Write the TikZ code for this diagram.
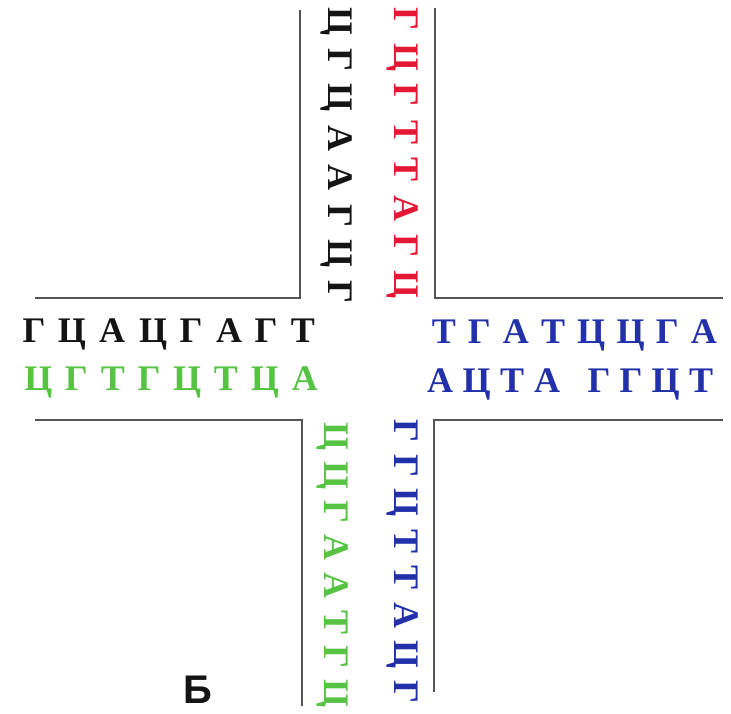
\documentclass[tikz,border=0pt]{standalone}
\usepackage{fontspec}
\setmainfont{Liberation Serif}
\newfontfamily\sansb{Liberation Sans}
\definecolor{nblack}{RGB}{20,20,20}
\definecolor{nred}{RGB}{228,24,52}
\definecolor{ngreen}{RGB}{86,196,66}
\definecolor{nblue}{RGB}{34,48,170}
\definecolor{framec}{RGB}{85,85,85}
\tikzset{
  letterbase/.style={font=\fontsize{36}{36}\selectfont\bfseries, inner sep=0pt, anchor=base},
  hlet/.style={letterbase},
  vlet/.style={letterbase, rotate=-90},
  frameline/.style={draw=framec, line width=2.6pt, line join=miter}
}
\begin{document}
\begin{tikzpicture}[x=1pt,y=-1pt]
\useasboundingbox (0,0) rectangle (731,713);
% frame corners
\coordinate (tlA) at (35,298); \coordinate (tlB) at (300,298); \coordinate (tlC) at (300,10);
\coordinate (trA) at (723,298); \coordinate (trB) at (435,298); \coordinate (trC) at (435,8);
\coordinate (blA) at (35,420); \coordinate (blB) at (302,420); \coordinate (blC) at (302,706);
\coordinate (brA) at (723,420); \coordinate (brB) at (434,420); \coordinate (brC) at (434,692);
\draw[frameline] (tlA) -- (tlB) -- (tlC);
\draw[frameline] (trA) -- (trB) -- (trC);
\draw[frameline] (blA) -- (blB) -- (blC);
\draw[frameline] (brA) -- (brB) -- (brC);
% horizontal rows
\foreach \x/\l [count=\i] in {34/Г,72/Ц,112/А,153/Ц,191/Г,229/А,266/Г,303/Т}
  \node[hlet, text=nblack] (bk\i) at (\x,342) {\l};
\foreach \x/\l [count=\i] in {38.5/Ц,76.4/Г,112.8/Т,149.2/Г,187.1/Ц,226/Т,264.9/Ц,304.8/А}
  \node[hlet, text=ngreen] (gr\i) at (\x,390) {\l};
\foreach \x/\l [count=\i] in {444/Т,479.4/Г,515.8/А,553.2/Т,591.1/Ц,630.5/Ц,667.4/Г,703.8/А}
  \node[hlet, text=nblue] (bla\i) at (\x,343) {\l};
\foreach \x/\l [count=\i] in {440/А,476.5/Ц,512/Т,547/А,599/Г,631/Г,665.5/Ц,701/Т}
  \node[hlet, text=nblue] (blb\i) at (\x,392) {\l};
% vertical columns
\foreach \y/\l [count=\i] in {21.5/Ц,59.7/Г,97.9/Ц,138.1/А,177.8/А,215.5/Г,253.7/Ц,291.9/Г}
  \node[vlet, text=nblack] (vk\i) at (328,\y) {\l};
\foreach \y/\l [count=\i] in {19/Г,57.2/Ц,95.4/Г,132.1/Т,169.8/Т,208.5/А,246.2/Г,284.4/Ц}
  \node[vlet, text=nred] (vr\i) at (394,\y) {\l};
\foreach \y/\l [count=\i] in {436.5/Ц,475.4/Ц,511.8/Г,547.7/А,585.6/А,622.5/Т,657.4/Г,693.8/Ц}
  \node[vlet, text=ngreen] (vg\i) at (324,\y) {\l};
\foreach \y/\l [count=\i] in {431/Г,465.7/Г,502.9/Ц,541.1/Т,577.8/Т,615.5/А,654.7/Ц,691.9/Г}
  \node[vlet, text=nblue] (vb\i) at (394,\y) {\l};
% label
\node[font=\sansb\fontsize{40}{40}\selectfont\bfseries, inner sep=0pt, anchor=base, text=nblack] (lab) at (198,703) {Б};
\end{tikzpicture}
\end{document}
